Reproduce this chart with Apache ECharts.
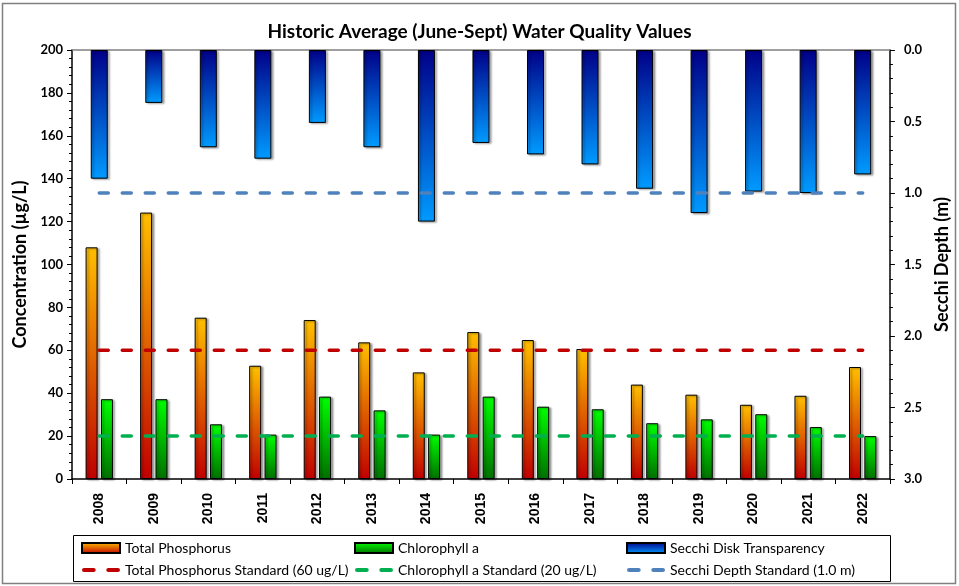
<!DOCTYPE html>
<html>
<head>
<meta charset="utf-8">
<script src="https://cdn.jsdelivr.net/npm/echarts@6/dist/echarts.min.js"></script>
<style>
  html, body { margin: 0; padding: 0; background: #fff; }
  #chart { width: 959px; height: 586px; }
</style>
</head>
<body>
<div id="chart"></div>
<script>
// Sampling seasons
const years = ['2008','2009','2010','2011','2012','2013','2014','2015','2016','2017','2018','2019','2020','2021','2022'];

// June–September averages
const totalPhosphorus = [108.0, 124.2, 75.2, 52.8, 74.1, 63.7, 49.7, 68.5, 64.8, 60.6, 44.0, 39.3, 34.6, 38.8, 52.2]; // ug/L
const chlorophyllA    = [37.2, 37.2, 25.5, 20.7, 38.4, 32.0, 20.7, 38.4, 33.7, 32.5, 26.0, 27.8, 30.2, 24.2, 20.0];  // ug/L
const secchiDepth     = [0.90, 0.37, 0.68, 0.76, 0.51, 0.68, 1.20, 0.65, 0.73, 0.80, 0.97, 1.14, 0.99, 1.00, 0.87]; // m

// Water quality standards
const tpStandard = 60;
const chlStandard = 20;
const secchiStandard = 1.0;

const tpStdLine = years.map(() => tpStandard);
const chlStdLine = years.map(() => chlStandard);
const secchiStdLine = years.map(() => secchiStandard);

const LABEL_FONT = 'Lato, "Open Sans", sans-serif';

// Legend swatch for the dashed standard lines: two short dashes
const DASH_ICON = 'path://M2,0H11A2,2 0 0 1 11,4H2A2,2 0 0 1 2,0Z M25,0H34A2,2 0 0 1 34,4H25A2,2 0 0 1 25,0Z';

function vGrad(top, bottom) {
  return new echarts.graphic.LinearGradient(0, 0, 0, 1, [
    { offset: 0, color: top },
    { offset: 1, color: bottom }
  ]);
}

const barShadow = {
  borderColor: '#000',
  borderWidth: 1,
  shadowColor: 'rgba(0,0,0,0.35)',
  shadowBlur: 2,
  shadowOffsetX: 2,
  shadowOffsetY: 1
};

function dashedLine(name, data, color, yAxisIndex) {
  return {
    name: name,
    type: 'line',
    xAxisIndex: 0,
    yAxisIndex: yAxisIndex,
    data: data,
    symbol: 'none',
    silent: true,
    z: 5,
    lineStyle: { color: color, width: 3.5, type: [9, 14], cap: 'round' },
    itemStyle: { color: color }
  };
}

function legendColumn(left, barName, lineName) {
  return {
    orient: 'vertical',
    left: left,
    top: 541,
    padding: 0,
    itemWidth: 38,
    itemHeight: 10,
    itemGap: 8,
    symbolKeepAspect: true,
    textStyle: { fontFamily: LABEL_FONT, fontSize: 14, color: '#000' },
    data: [
      { name: barName, icon: 'rect' },
      { name: lineName, icon: DASH_ICON }
    ]
  };
}

const chart = echarts.init(document.getElementById('chart'), null, { renderer: 'canvas' });

chart.setOption({
  animation: false,
  backgroundColor: '#fff',
  title: {
    text: 'Historic Average (June-Sept) Water Quality Values',
    left: 'center',
    top: 17,
    textStyle: { fontFamily: LABEL_FONT, fontSize: 19, fontWeight: 'bold', color: '#000' }
  },
  graphic: [
    { type: 'rect', shape: { x: 2.5, y: 3.5, width: 953, height: 580 }, style: { fill: 'none', stroke: '#808080', lineWidth: 1.5 }, z: -1 },
    { type: 'rect', shape: { x: 73.5, y: 535.5, width: 817, height: 46 }, style: { fill: '#fff', stroke: '#000', lineWidth: 1 }, z: -1 }
  ],
  legend: [
    legendColumn(81, 'Total Phosphorus', 'Total Phosphorus Standard (60 ug/L)'),
    legendColumn(354, 'Chlorophyll a', 'Chlorophyll a Standard (20 ug/L)'),
    legendColumn(626, 'Secchi Disk Transparency', 'Secchi Depth Standard (1.0 m)')
  ],
  grid: { left: 72, right: 68, top: 50, bottom: 107 },
  xAxis: [
    {
      type: 'category',
      data: years,
      position: 'bottom',
      axisLine: { lineStyle: { color: '#000', width: 1.5 } },
      axisTick: { show: true, alignWithLabel: false, length: 5, lineStyle: { color: '#000' } },
      axisLabel: {
        rotate: 90, margin: 14,
        fontFamily: '"Liberation Sans", Arial, sans-serif', fontSize: 14, fontWeight: 'bold', color: '#000'
      },
      splitLine: { show: false }
    },
    {
      type: 'category',
      data: years,
      position: 'top',
      axisLine: { lineStyle: { color: '#808080', width: 1.5 } },
      axisTick: { show: false },
      axisLabel: { show: false },
      splitLine: { show: false }
    }
  ],
  yAxis: [
    {
      type: 'value',
      min: 0, max: 200, interval: 20,
      name: 'Concentration (\u00b5g/L)',
      nameLocation: 'middle',
      nameGap: 42,
      nameTextStyle: { fontFamily: LABEL_FONT, fontSize: 18, fontWeight: 'bold', color: '#000' },
      axisLine: { show: true, lineStyle: { color: '#000', width: 1.5 } },
      axisTick: { show: true, length: 5, lineStyle: { color: '#000' } },
      minorTick: { show: true, splitNumber: 5, length: 3, lineStyle: { color: '#000' } },
      axisLabel: { fontFamily: LABEL_FONT, fontSize: 13, fontWeight: 'bold', color: '#000', margin: 9 },
      splitLine: { show: false }
    },
    {
      type: 'value',
      min: 0, max: 3, interval: 0.5,
      inverse: true,
      position: 'right',
      name: 'Secchi Depth (m)',
      nameLocation: 'middle',
      nameGap: 42,
      nameRotate: 90,
      nameTextStyle: { fontFamily: LABEL_FONT, fontSize: 18, fontWeight: 'bold', color: '#000' },
      axisLine: { show: true, lineStyle: { color: '#000', width: 1.5 } },
      axisTick: { show: true, length: 5, lineStyle: { color: '#000' } },
      minorTick: { show: true, splitNumber: 5, length: 3, lineStyle: { color: '#000' } },
      axisLabel: {
        fontFamily: LABEL_FONT, fontSize: 13, fontWeight: 'bold', color: '#000', margin: 14,
        formatter: v => v.toFixed(1)
      },
      splitLine: { show: false }
    }
  ],
  series: [
    {
      name: 'Total Phosphorus',
      type: 'bar',
      xAxisIndex: 0, yAxisIndex: 0,
      data: totalPhosphorus,
      barWidth: 12,
      barGap: '28%',
      itemStyle: Object.assign({ color: vGrad('#FFC000', '#C00000') }, barShadow)
    },
    {
      name: 'Chlorophyll a',
      type: 'bar',
      xAxisIndex: 0, yAxisIndex: 0,
      data: chlorophyllA,
      barWidth: 12,
      barGap: '28%',
      itemStyle: Object.assign({ color: vGrad('#00FF00', '#007000') }, barShadow)
    },
    {
      name: 'Secchi Disk Transparency',
      type: 'bar',
      xAxisIndex: 1, yAxisIndex: 1,
      data: secchiDepth,
      barWidth: 17,
      itemStyle: Object.assign({ color: vGrad('#000088', '#009BFF') }, barShadow)
    },
    dashedLine('Total Phosphorus Standard (60 ug/L)', tpStdLine, '#C00000', 0),
    dashedLine('Chlorophyll a Standard (20 ug/L)', chlStdLine, '#00B050', 0),
    dashedLine('Secchi Depth Standard (1.0 m)', secchiStdLine, '#4F81BD', 1)
  ]
});
</script>
</body>
</html>
